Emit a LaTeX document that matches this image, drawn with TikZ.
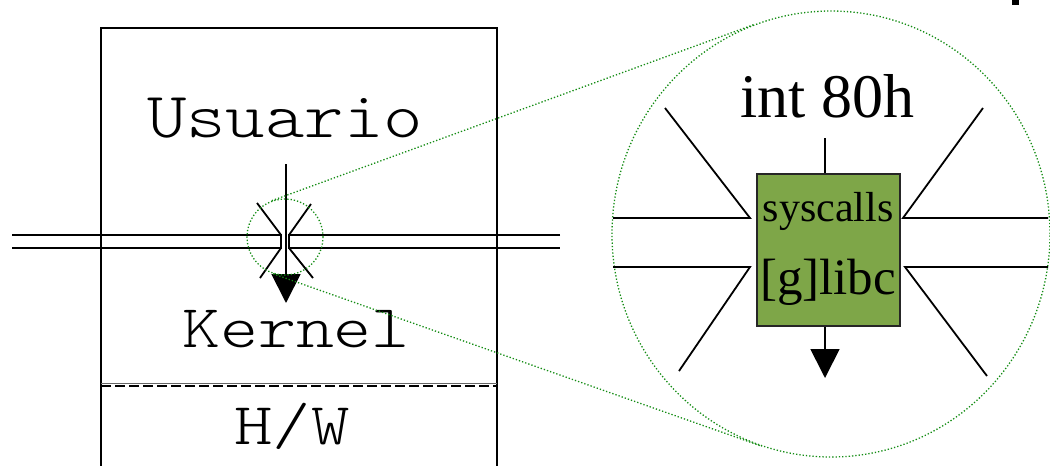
\documentclass[tikz,border=0pt]{standalone}
\usepackage{fontspec}
\setmainfont{Liberation Serif}
\usetikzlibrary{arrows.meta,shapes.geometric}
\definecolor{boxgreen}{RGB}{126,166,72}
\definecolor{dotgreen}{RGB}{20,140,20}
\begin{document}
\begin{tikzpicture}[x=1pt,y=-1pt,
  line/.style={line width=1.8pt},
  frame/.style={line width=1.4pt},
  zoomc/.style={draw=dotgreen, line width=1.3pt, dash pattern=on 1.3pt off 2pt},
  tri/.style={-{Triangle[length=29pt,width=29pt]}, line width=1.8pt},
  mono/.style={font=\ttfamily\fontseries{l}\fontsize{75}{80}\selectfont, anchor=base, inner sep=0}
]
\useasboundingbox (0,0) rectangle (1050,466);
% left frames
\draw[frame] (101,466) -- (101,28) -- (497,28) -- (497,466);
\draw[line width=1pt, black!60] (101,383) -- (497,383);
\draw[line width=2pt, dash pattern=on 10pt off 4pt] (101,386) -- (497,386);
% texts
\node[mono] (usr) at (285,137) {\scalebox{1}[0.86]{Usuario}};
\node[mono] (ker) at (296,347) {\scalebox{0.965}[0.81]{Kernel}};
\node[mono] (hw) at (292,444) {\scalebox{0.975}[0.79]{H/W}};
% double lines
\draw[line] (12,235) -- (281,235) -- (281,248) -- (12,248);
\draw[line] (560,235) -- (289,235) -- (289,248) -- (560,248);
\draw[line] (257,203) -- (281,235);
\draw[line] (311,204) -- (289,235);
\draw[line] (260,278) -- (281,248);
\draw[line] (313,278) -- (289,248);
% arrow
\coordinate (a0) at (286,164);
\coordinate (a1) at (286,303);
\draw[tri] (a0) -- (a1);
% zoom circles
\node[circle, zoomc, minimum size=76pt, inner sep=0] (sc) at (285,237) {};
\node[ellipse, zoomc, minimum width=438pt, minimum height=446pt, inner sep=0] (bc) at (831,234) {};
\draw[zoomc] (sc.110) -- (bc.110);
\draw[zoomc] (sc.252) -- (bc.252);
% inset
\node[draw=black!85, fill=boxgreen, line width=1.2pt, minimum width=143pt, minimum height=152pt, inner sep=0] (lib) at (828.5,250) {};
\node[font=\fontsize{42}{42}\selectfont, anchor=base, inner sep=0] (sys) at (828,221) {syscalls};
\node[font=\fontsize{51}{51}\selectfont, anchor=base, inner sep=0] (glibc) at (828,294) {[g]libc};
\node[font=\fontsize{62}{62}\selectfont, anchor=base, inner sep=0] (int) at (827,117) {int 80h};
\coordinate (t0) at (825,138);
\coordinate (t1) at (825,378);
\draw[line] (t0) -- (t0 |- lib.north);
\draw[tri] (t1 |- lib.south) -- (t1);
\draw[line] (613,218) -- (750,218) -- (665,108);
\draw[line] (613,267) -- (750,267) -- (679,371);
\draw[line] (1048,218) -- (903,218) -- (983,108);
\draw[line] (1048,267) -- (905,267) -- (987,376);
\fill (1012,0) rectangle (1019,5);
\end{tikzpicture}
\end{document}
